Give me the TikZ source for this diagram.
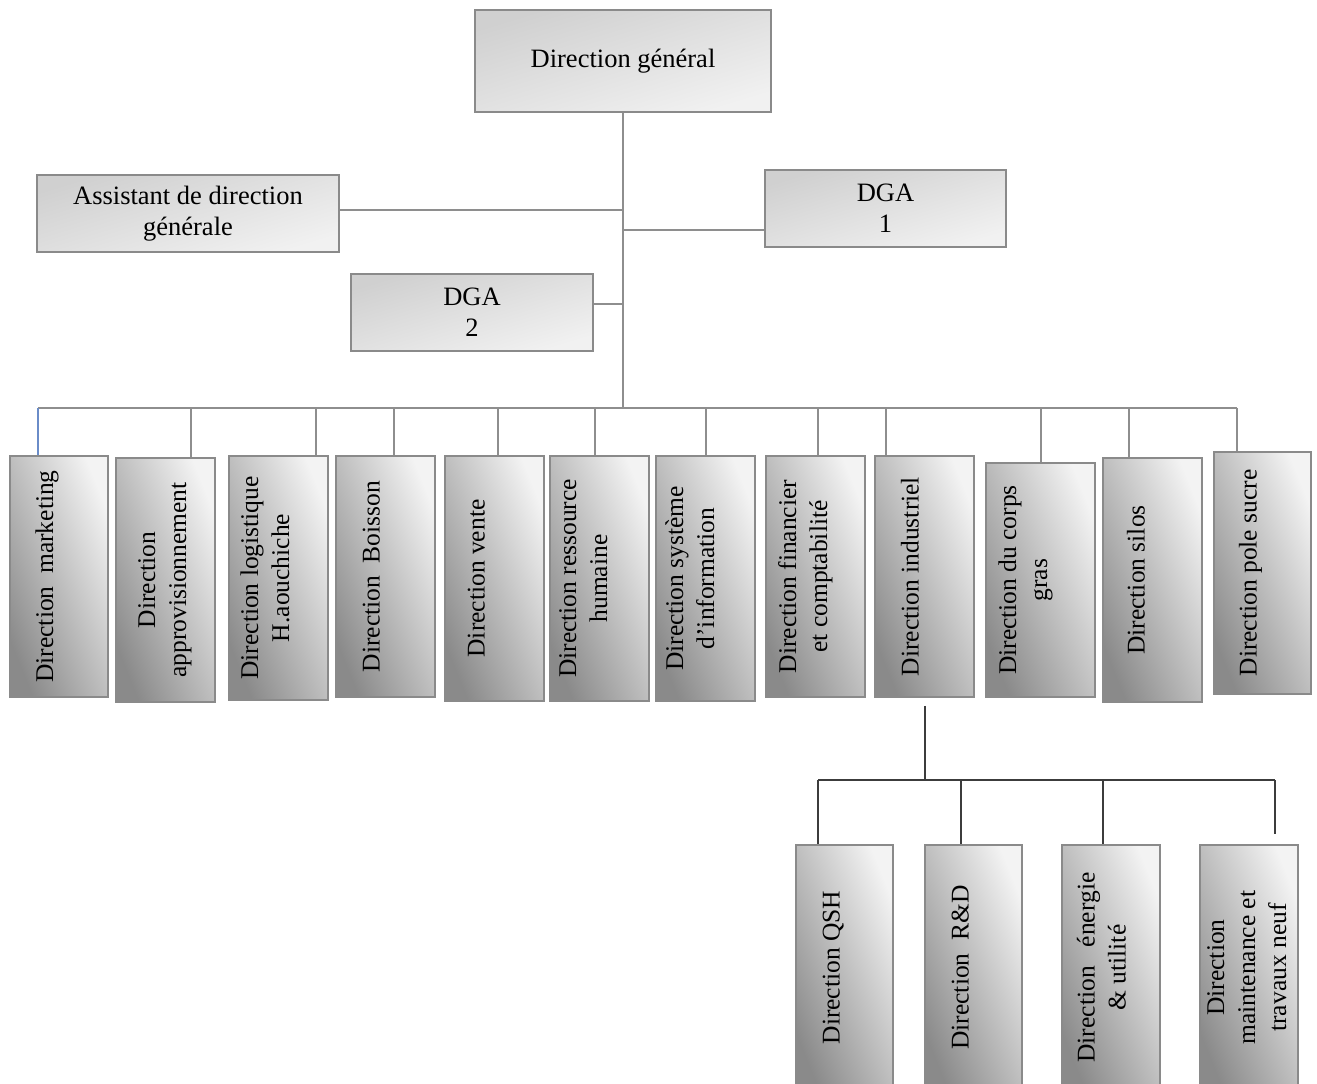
\documentclass[tikz,border=0pt]{standalone}
\usepackage{fontspec}
\setmainfont{Liberation Serif}
\usetikzlibrary{calc}

\definecolor{linkgray}{HTML}{8E8E8E}
\definecolor{linkdark}{HTML}{3C3C3C}
\definecolor{linkblue}{HTML}{6A8CC8}
\definecolor{framegray}{HTML}{8A8A8A}
\definecolor{shadelight}{HTML}{F3F3F3}
\definecolor{shadedark}{HTML}{8A8A8A}
\definecolor{headdark}{HTML}{D0D0D0}
\definecolor{headlight}{HTML}{F1F1F1}

% rotated, centred multi-line caption for the tall boxes
\newcommand\vlabel[1]{\rotatebox{90}{\begin{tabular}{@{}c@{}}#1\end{tabular}}}

\begin{document}
\begin{tikzpicture}[x=1pt,y=-1pt,
  link/.style={draw=linkgray, line width=1.6pt},
  sublink/.style={draw=linkdark, line width=1.6pt},
  headbox/.style={draw=framegray, line width=1.6pt, shading=axis,
    top color=headdark, bottom color=headlight, shading angle=17,
    inner sep=0pt, align=center, font=\fontsize{26.5}{31}\selectfont},
  unitbox/.style={draw=framegray, line width=1.6pt, shading=axis,
    top color=shadelight, bottom color=shadedark, shading angle=-68,
    inner sep=0pt},
  vtext/.style={font=\fontsize{25.5}{31}\selectfont, inner sep=0pt}
]
\clip (0,0) rectangle (1317,1084);
\fill[white] (0,0) rectangle (1317,1084);

% --- top management ---
\node[headbox, minimum width=296, minimum height=102] (dg) at (623,61) {Direction général};
\node[headbox, minimum width=302, minimum height=77] (asst) at (188,213.5) {Assistant de direction\\générale};
\node[headbox, minimum width=241, minimum height=77] (dga1) at (885.5,208.5) {DGA\\1};
\node[headbox, minimum width=242, minimum height=77] (dga2) at (472,312.5) {DGA\\2};

% --- directions ---
\node[unitbox, minimum width=98, minimum height=241, label={[vtext,xshift=-12pt]center:{\vlabel{Direction~~marketing}}}] (d1) at (59,576.5) {};
\node[unitbox, minimum width=99, minimum height=244, label={[vtext,xshift=-1pt]center:{\vlabel{Direction\\approvisionnement}}}] (d2) at (165.5,580) {};
\node[unitbox, minimum width=99, minimum height=244, label={[vtext,xshift=-11pt]center:{\vlabel{Direction logistique\\H.aouchiche}}}] (d3) at (278.5,578) {};
\node[unitbox, minimum width=99, minimum height=241, label={[vtext,xshift=-12pt]center:{\vlabel{Direction~~Boisson}}}] (d4) at (385.5,576.5) {};
\node[unitbox, minimum width=99, minimum height=245, label={[vtext,xshift=-16pt]center:{\vlabel{Direction vente}}}] (d5) at (494.5,578.5) {};
\node[unitbox, minimum width=99, minimum height=245, label={[vtext,xshift=-14pt]center:{\vlabel{Direction ressource\\humaine}}}] (d6) at (599.5,578.5) {};
\node[unitbox, minimum width=99, minimum height=245, label={[vtext,xshift=-13pt]center:{\vlabel{Direction système\\d’information}}}] (d7) at (705.5,578.5) {};
\node[unitbox, minimum width=99, minimum height=241, label={[vtext,xshift=-10pt]center:{\vlabel{Direction financier\\et comptabilité}}}] (d8) at (815.5,576.5) {};
\node[unitbox, minimum width=99, minimum height=241, label={[vtext,xshift=-12pt]center:{\vlabel{Direction industriel}}}] (d9) at (924.5,576.5) {};
\node[unitbox, minimum width=109, minimum height=234, label={[vtext,xshift=-15pt]center:{\vlabel{Direction du corps\\gras}}}] (d10) at (1040.5,580) {};
\node[unitbox, minimum width=99, minimum height=244, label={[vtext,xshift=-14pt]center:{\vlabel{Direction silos}}}] (d11) at (1152.5,580) {};
\node[unitbox, minimum width=97, minimum height=242, label={[vtext,xshift=-12pt]center:{\vlabel{Direction pole sucre}}}] (d12) at (1262.5,573) {};

% --- departments of the industrial direction ---
\node[unitbox, minimum width=97, minimum height=245, label={[vtext,xshift=-11pt]center:{\vlabel{Direction QSH}}}] (s1) at (844.5,967.5) {};
\node[unitbox, minimum width=97, minimum height=245, label={[vtext,xshift=-11pt]center:{\vlabel{Direction~~R\&D}}}] (s2) at (973.5,967.5) {};
\node[unitbox, minimum width=98, minimum height=245, label={[vtext,xshift=-7pt]center:{\vlabel{Direction~~~énergie\\\& utilité}}}] (s3) at (1111,967.5) {};
\node[unitbox, minimum width=98, minimum height=245, label={[vtext,xshift=0pt]center:{\vlabel{Direction\\maintenance et\\travaux neuf}}}] (s4) at (1249,967.5) {};

% --- trunk and side branches ---
\coordinate (hub) at (624,408);
\draw[link] (dg.south) -- (dg.south |- hub);
\draw[link] ([yshift=3.5pt]asst.east) -- ([yshift=3.5pt]asst.east -| dg.south);
\draw[link] ([yshift=-21.5pt]dga1.west) -- ([yshift=-21.5pt]dga1.west -| dg.south);
\draw[link] ([yshift=8.5pt]dga2.east) -- ([yshift=8.5pt]dga2.east -| dg.south);

% --- distribution bar to the directions ---
\foreach \n/\x in {1/38,2/191,3/316,4/394,5/498,6/595,7/706,8/818,9/886,10/1041,11/1129,12/1237}
  \coordinate (b\n) at (\x,408);
\draw[link] (b1) -- (b12);
\draw[draw=linkblue, line width=1.6pt] (b1) -- (b1 |- d1.north);
\foreach \n in {2,...,12}
  \draw[link] (b\n) -- (b\n |- d\n.north);

% --- industrial direction branch ---
\coordinate (ind) at ($(d9.south)+(0.5,8)$);
\coordinate (sb) at (925,780);
\draw[sublink] (ind) -- (sb);
\coordinate (c1) at (818,780);
\coordinate (c2) at (961,780);
\coordinate (c3) at (1103,780);
\coordinate (c4) at (1275,780);
\draw[sublink] (c1) -- (c4);
\draw[sublink] (c1) -- (c1 |- s1.north);
\draw[sublink] (c2) -- (c2 |- s2.north);
\draw[sublink] (c3) -- (c3 |- s3.north);
\draw[sublink] (c4) -- ([yshift=10pt]c4 |- s4.north);
\end{tikzpicture}
\end{document}
